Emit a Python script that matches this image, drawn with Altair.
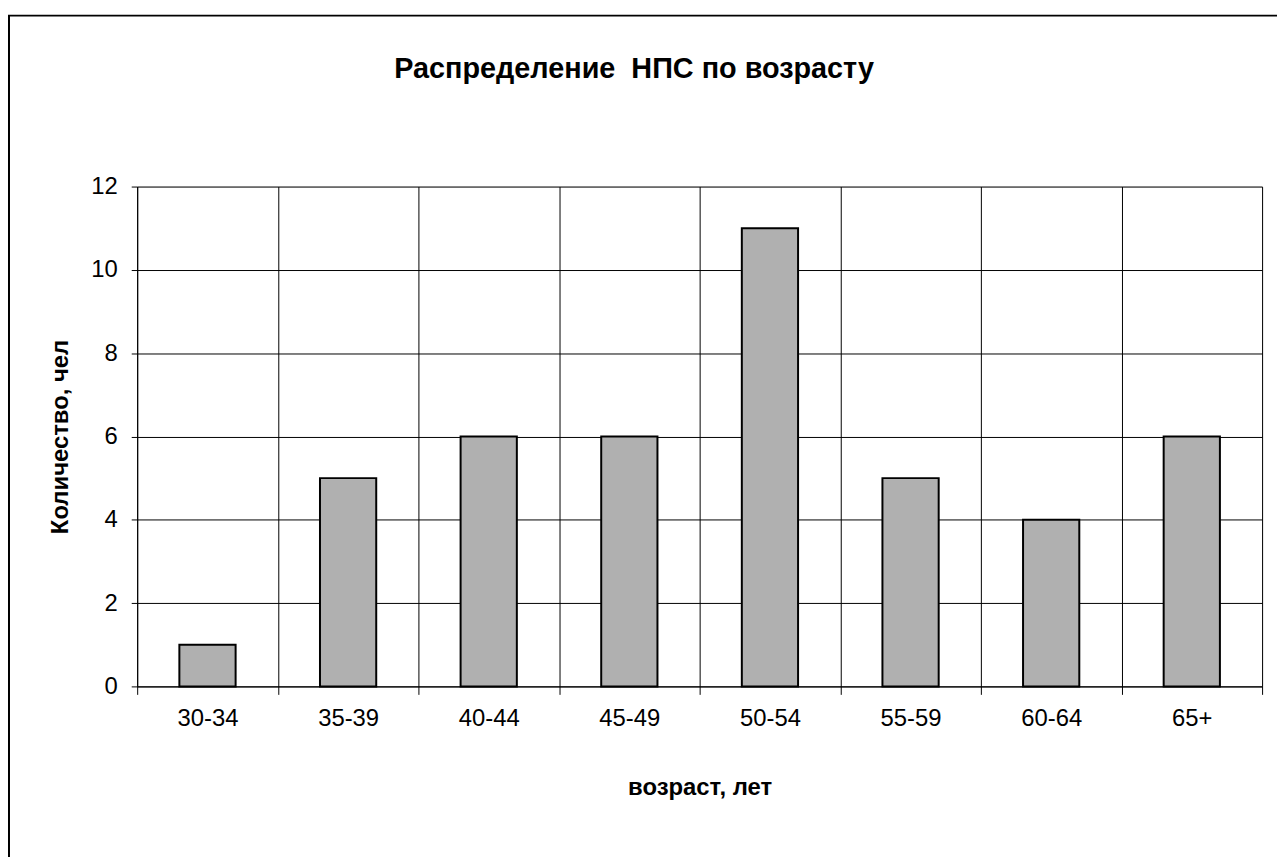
import altair as alt
import pandas as pd

categories = ["30-34", "35-39", "40-44", "45-49", "50-54", "55-59", "60-64", "65+"]
counts = [1, 5, 6, 6, 11, 5, 4, 6]
y_ticks = [0, 2, 4, 6, 8, 10, 12]

df = pd.DataFrame({"age": categories, "count": counts})
FONT = "Liberation Sans"

bars = alt.Chart(df).mark_bar(
    width=alt.RelativeBandSize(0.4),
    fill="#b0b0b0",
    stroke="black",
    strokeWidth=2,
).encode(
    x=alt.X(
        "age:N",
        sort=categories,
        scale=alt.Scale(paddingInner=0, paddingOuter=0),
        axis=alt.Axis(
            title="возраст, лет",
            labelAngle=0,
            tickBand="extent",
            grid=True,
            gridColor="black",
            gridOpacity=1,
            gridWidth=1,
            domainColor="black",
            tickColor="black",
            tickSize=8,
            labelPadding=12,
            labelFontSize=24,
            labelFont=FONT,
            labelColor="black",
            titleFont=FONT,
            titleFontSize=24,
            titleFontWeight="bold",
            titleColor="black",
            titlePadding=46,
        ),
    ),
    y=alt.Y(
        "count:Q",
        scale=alt.Scale(domain=[0, 12]),
        axis=alt.Axis(
            title="Количество, чел",
            values=y_ticks,
            grid=True,
            gridColor="black",
            gridOpacity=1,
            gridWidth=1,
            domainColor="black",
            tickColor="black",
            tickSize=6,
            labelPadding=14,
            labelFontSize=24,
            labelFont=FONT,
            labelColor="black",
            titleFont=FONT,
            titleFontSize=24,
            titleFontWeight="bold",
            titleColor="black",
            titlePadding=18,
        ),
    ),
)

border = alt.Chart(pd.DataFrame({"v": [0]})).mark_rect(
    fill=None, stroke="black", strokeWidth=2
).encode(
    x=alt.value(-129), x2=alt.value(1132 + 40),
    y=alt.value(-172), y2=alt.value(503 + 250),
)

chart = alt.layer(border, bars).properties(
    width=1132,
    height=503,
    title=alt.TitleParams(
        "Распределение\u00a0 НПС по возрасту",
        font=FONT,
        fontSize=29,
        fontWeight="bold",
        color="black",
        anchor="middle",
        dx=-66,
        dy=70,
        offset=0,
    ),
    autosize=alt.AutoSizeParams(type="none"),
    padding={"left": 130, "top": 177, "right": 15, "bottom": 169},
).configure_view(
    stroke="black", strokeWidth=1
).configure(background="white")

chart.save("out.html", embed_options={"renderer": "svg", "actions": False})
